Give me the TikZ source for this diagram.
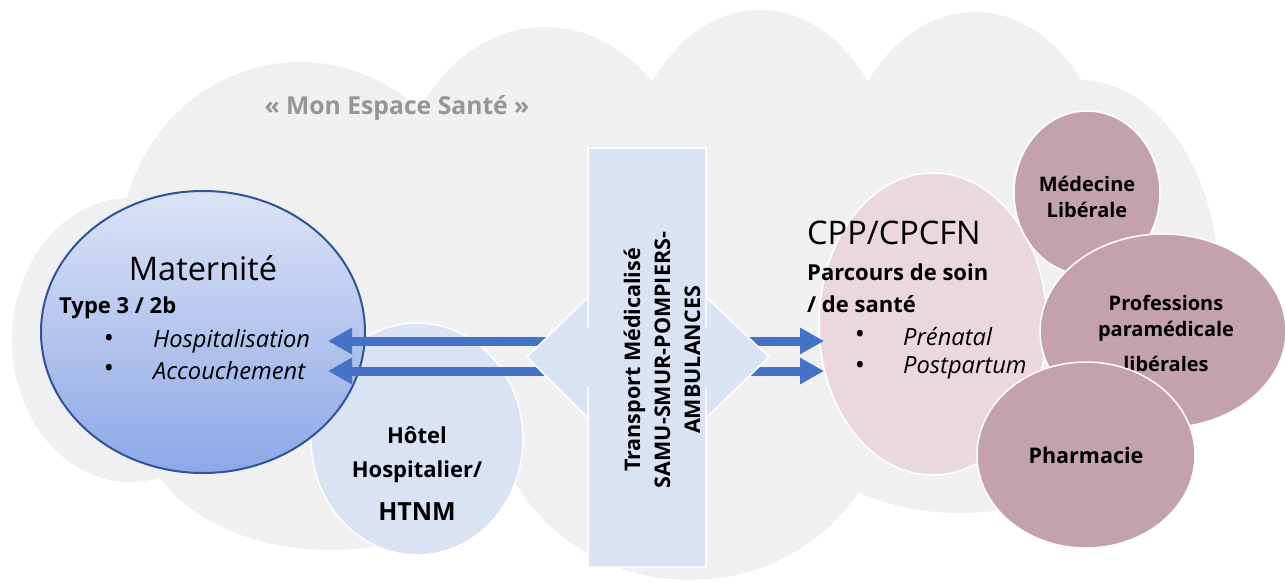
\documentclass[tikz,border=0pt]{standalone}
\usepackage{fontspec}
\setmainfont{Open Sans}
\usetikzlibrary{shapes.geometric,arrows.meta}
\definecolor{cloudgray}{HTML}{F0F0F0}
\definecolor{lightblue}{HTML}{DAE3F3}
\definecolor{matTop}{HTML}{DCE3F6}
\definecolor{matBot}{HTML}{8CA8E6}
\definecolor{matBorder}{HTML}{2F5597}
\definecolor{arrowblue}{HTML}{4472C4}
\definecolor{cpppink}{HTML}{EAD8DE}
\definecolor{mauve}{HTML}{C4A2AC}
\definecolor{titlegray}{HTML}{959595}
\begin{document}
\begin{tikzpicture}[x=1pt,y=-1pt,
  lobe/.style={fill=cloudgray, draw=none},
  blob/.style={ellipse, inner sep=0pt, draw=white, line width=1.5pt},
  arr/.style={draw=arrowblue, line width=9pt, -{Triangle[length=24pt,width=25pt,fill=arrowblue]}},
  txt/.style={inner sep=0pt, text=black},
  bigreg/.style={txt, font=\fontsize{32.5}{38}\selectfont},
  boldtxt/.style={txt, font=\bfseries\fontsize{22}{26}\selectfont},
  boldsm/.style={txt, font=\bfseries\fontsize{20}{26}\selectfont, align=center},
  ittxt/.style={txt, font=\itshape\fontsize{23.7}{28}\selectfont},
  bullet/.style={txt, font=\fontsize{27}{28}\selectfont}
]
\useasboundingbox (0,0) rectangle (1285,581);
\fill[white] (0,0) rectangle (1285,581);

% cloud background
\fill[lobe] (130,340) ellipse [x radius=118pt, y radius=142pt];
\fill[lobe] (300,250) ellipse [x radius=180pt, y radius=188pt];
\fill[lobe] (545,210) ellipse [x radius=150pt, y radius=183pt];
\fill[lobe] (760,190) ellipse [x radius=135pt, y radius=180pt];
\fill[lobe] (975,190) ellipse [x radius=135pt, y radius=178pt];
\fill[lobe] (1080,290) ellipse [x radius=140pt, y radius=210pt];
\fill[lobe] (330,420) ellipse [x radius=190pt, y radius=130pt];
\fill[lobe] (690,390) ellipse [x radius=200pt, y radius=190pt];
\fill[lobe] (960,380) ellipse [x radius=190pt, y radius=133pt];
\fill[lobe] (640,300) ellipse [x radius=450pt, y radius=190pt];

% title
\node[txt, font=\bfseries\fontsize{24.7}{28}\selectfont, text=titlegray] (title) at (397,108) {« Mon Espace Santé »};

% Hotel hospitalier
\node[blob, fill=lightblue, minimum width=212pt, minimum height=232pt] (hotel) at (417,439) {};
\node[boldtxt] (hotelA) at (417,435) {Hôtel};
\node[boldtxt] (hotelB) at (417,472) {Hospitalier/};
\node[txt, font=\bfseries\fontsize{25}{30}\selectfont] (hotelC) at (417,512) {HTNM};

% Maternite
\node[ellipse, inner sep=0pt, draw=matBorder, line width=2pt, top color=matTop, bottom color=matBot,
      minimum width=324pt, minimum height=282pt] (mat) at (203,332) {};
\node[bigreg] (matT) at (203,268) {Maternité};
\node[boldtxt, anchor=west] (matType) at (59,308) {Type 3 / 2b};
\node[bullet] (mb1) at (109,341) {•};
\node[bullet] (mb2) at (109,371) {•};
\node[ittxt, anchor=west] (hosp) at (153,341) {Hospitalisation};
\node[ittxt, anchor=west] (acc) at (153,371) {Accouchement};

% CPP
\node[blob, fill=cpppink, minimum width=228pt, minimum height=302pt] (cpp) at (933,324) {};
\node[bigreg, anchor=west] (cppT) at (807,233) {CPP/CPCFN};
\node[boldtxt, anchor=west] (cppP) at (807,272) {Parcours de soin};
\node[boldtxt, anchor=west] (cppS) at (807,304) {/ de santé};
\node[bullet] (cb1) at (860,337) {•};
\node[bullet] (cb2) at (860,368) {•};
\node[ittxt, anchor=west] (pre) at (903,337) {Prénatal};
\node[ittxt, anchor=west] (post) at (903,368) {Postpartum};

% liberal circles
\node[blob, fill=mauve, minimum width=146pt, minimum height=164pt] (med) at (1087,193) {};
\node[boldsm] (medT) at (1087,197) {Médecine\\Libérale};
\node[blob, fill=mauve, minimum width=246pt, minimum height=194pt] (prof) at (1163,331) {};
\node[boldsm] (profT) at (1166,333) {Professions\\paramédicale\\[9pt]libérales};
\node[blob, fill=mauve, minimum width=218pt, minimum height=186pt] (pharma) at (1086,455) {};
\node[txt, font=\bfseries\fontsize{21.5}{26}\selectfont] (pharmaT) at (1086,455) {Pharmacie};

% arrows
\coordinate (tL1) at (560,341);
\coordinate (tL2) at (560,371);
\coordinate (mL1) at (328,341);
\coordinate (mL2) at (328,371);
\coordinate (tR1) at (740,341);
\coordinate (tR2) at (740,371);
\coordinate (cR1) at (824,341);
\coordinate (cR2) at (824,371);
\draw[arr] (tL1) -- (mL1);
\draw[arr] (tL2) -- (mL2);
\draw[arr] (tR1) -- (cR1);
\draw[arr] (tR2) -- (cR2);

% transport callout
\filldraw[fill=lightblue, draw=white, line width=1.5pt, line join=miter]
  (588,148) -- (706,148) -- (706,328) -- (706,297) -- (769,357) -- (706,418) -- (706,387)
  -- (706,567) -- (588,567) -- (588,387) -- (588,418) -- (527,357) -- (588,297) -- (588,328) -- cycle;
\node[txt, rotate=90, align=center, font=\bfseries\fontsize{21.5}{30}\selectfont] (transport) at (662,360)
  {Transport Médicalisé\\SAMU-SMUR-POMPIERS-\\AMBULANCES};
\end{tikzpicture}
\end{document}
